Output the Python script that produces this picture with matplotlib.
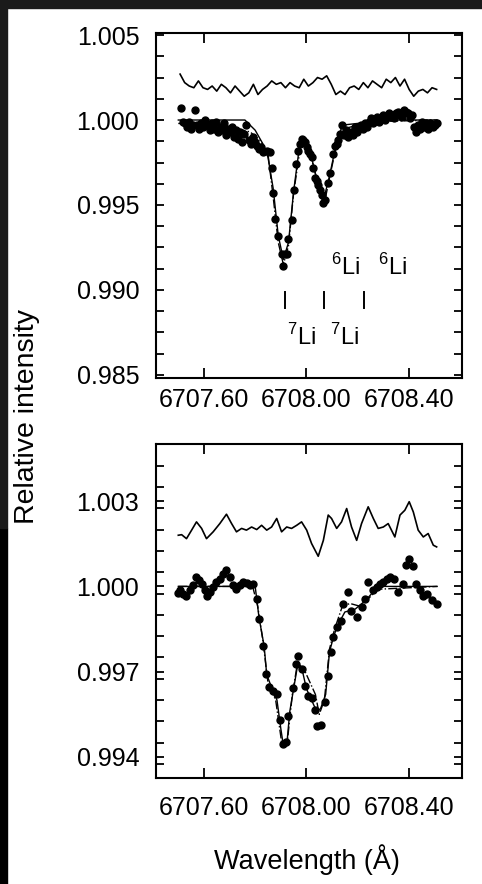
import numpy as np
import matplotlib
matplotlib.use('Agg')
import matplotlib.pyplot as plt
from matplotlib.ticker import MultipleLocator, FormatStrFormatter
from matplotlib.patches import Rectangle

plt.rcParams['font.family'] = ['Liberation Sans', 'DejaVu Sans']
plt.rcParams['mathtext.fontset'] = 'custom'
plt.rcParams['mathtext.rm'] = 'Liberation Sans'

# ---- upper spectrum ----
top_noise_y = [2.7, 2.2, 2.0, 1.9, 2.3, 1.9, 1.8, 2.0, 1.7, 2.1, 1.9, 1.6, 2.0, 1.7,
               1.4, 1.6, 2.1, 1.5, 1.8, 2.0, 2.3, 2.1, 2.2, 1.9, 2.2, 2.0, 1.9, 2.4,
               2.0, 2.2, 2.5, 2.4, 2.6, 2.1, 1.5, 1.7, 1.5, 1.9, 2.0, 1.8, 2.2, 1.9,
               2.3, 2.1, 1.9, 2.4, 2.2, 2.5, 2.0, 2.4, 1.8, 1.4, 1.7, 1.8, 1.6, 1.9,
               1.8]
top_noise_x = np.linspace(6707.507, 6708.508, len(top_noise_y))

top_obs_x = [6707.510, 6707.518, 6707.526, 6707.534, 6707.542, 6707.550, 6707.558,
             6707.566, 6707.574, 6707.582, 6707.590, 6707.598, 6707.606, 6707.614,
             6707.622, 6707.630, 6707.638, 6707.646, 6707.654, 6707.662, 6707.670,
             6707.678, 6707.686, 6707.694, 6707.702, 6707.710, 6707.718, 6707.726,
             6707.734, 6707.742, 6707.750, 6707.758, 6707.766, 6707.774, 6707.782,
             6707.790, 6707.798, 6707.806, 6707.814, 6707.822, 6707.830, 6707.845,
             6707.857, 6707.864, 6707.870, 6707.877, 6707.890, 6707.903, 6707.909,
             6707.916, 6707.923, 6707.929, 6707.942, 6707.951, 6707.960, 6707.968,
             6707.975, 6707.981, 6707.988, 6707.994, 6708.001, 6708.008, 6708.014,
             6708.020, 6708.027, 6708.034, 6708.040, 6708.047, 6708.053, 6708.059,
             6708.066, 6708.072, 6708.085, 6708.092, 6708.105, 6708.111, 6708.118,
             6708.125, 6708.131, 6708.140, 6708.148, 6708.156, 6708.164, 6708.172,
             6708.180, 6708.188, 6708.196, 6708.204, 6708.212, 6708.220, 6708.228,
             6708.236, 6708.244, 6708.252, 6708.260, 6708.268, 6708.276, 6708.284,
             6708.292, 6708.300, 6708.308, 6708.316, 6708.324, 6708.332, 6708.340,
             6708.348, 6708.356, 6708.364, 6708.372, 6708.380, 6708.388, 6708.396,
             6708.404, 6708.412, 6708.420, 6708.428, 6708.436, 6708.444, 6708.452,
             6708.460, 6708.468, 6708.476, 6708.484, 6708.492, 6708.500, 6708.508]
top_obs_y = [1.0007, 0.9999, 0.9998, 0.9996, 0.9999, 0.9995, 0.9997,
             1.0006, 0.9997, 0.9995, 0.9998, 0.9996, 1.0000, 0.9997,
             0.9994, 0.9998, 0.9995, 0.9999, 0.9993, 0.9996, 0.9994,
             0.9998, 0.9991, 0.9995, 0.9993, 0.9996, 0.9990, 0.9994,
             0.9989, 0.9993, 0.9987, 0.9992, 0.9997, 0.9988, 0.9986,
             0.9990, 0.9987, 0.9985, 0.9983, 0.9984, 0.9981, 0.9982,
             0.9981, 0.9972, 0.9957, 0.9942, 0.9932, 0.9921, 0.9914,
             0.9921, 0.9921, 0.9930, 0.9941, 0.9959, 0.9974, 0.9982,
             0.9986, 0.9989, 0.9988, 0.9987, 0.9984, 0.9982, 0.9980,
             0.9978, 0.9972, 0.9966, 0.9964, 0.9962, 0.9959, 0.9956,
             0.9951, 0.9953, 0.9963, 0.9969, 0.9980, 0.9985, 0.9986,
             0.9988, 0.9992, 0.9997, 0.9991, 0.9994, 0.9990, 0.9993,
             0.9991, 0.9996, 0.9993, 0.9996, 0.9997, 0.9995, 0.9998,
             0.9996, 0.9999, 1.0001, 0.9998, 1.0000, 1.0002, 0.9999,
             1.0001, 1.0003, 1.0000, 1.0002, 1.0004, 1.0002, 1.0001,
             1.0004, 1.0005, 1.0003, 1.0002, 1.0006, 1.0005, 1.0004,
             1.0001, 1.0003, 0.9996, 0.9993, 0.9997, 0.9995, 0.9999,
             0.9996, 0.9998, 0.9995, 0.9998, 0.9996, 0.9997, 0.9998]

top_fit1_x = [6707.50, 6707.76, 6707.80, 6707.83, 6707.85, 6707.87, 6707.89, 6707.91,
              6707.93, 6707.95, 6707.975, 6707.99, 6708.02, 6708.045, 6708.065,
              6708.09, 6708.115, 6708.14, 6708.20, 6708.30, 6708.51]
top_fit1_y = [1.0000, 1.0000, 0.9994, 0.9986, 0.9978, 0.9960, 0.9932, 0.9918,
              0.9928, 0.9958, 0.9987, 0.9988, 0.9978, 0.9962, 0.9952,
              0.9967, 0.9985, 0.9997, 0.9998, 1.0000, 1.0000]
top_fit2_x = [6707.50, 6707.70, 6707.78, 6707.82, 6707.85, 6707.87, 6707.89, 6707.91,
              6707.93, 6707.95, 6707.98, 6708.00, 6708.03, 6708.05, 6708.07, 6708.09,
              6708.12, 6708.15, 6708.25, 6708.51]
top_fit2_y = [0.9998, 0.9996, 0.9993, 0.9988, 0.9980, 0.9955, 0.9928, 0.9915,
              0.9926, 0.9957, 0.9988, 0.9985, 0.9972, 0.9958, 0.9951, 0.9966,
              0.9987, 0.9995, 0.9999, 1.0000]

# isotope line positions and their labels
li_mark_x = [6707.916, 6708.068, 6708.226]
li7_label_x = [6707.982, 6708.150]
li6_label_x = [6708.153, 6708.337]

# ---- lower spectrum ----
bot_noise_x = [6707.500, 6707.513, 6707.532, 6707.552, 6707.571, 6707.591, 6707.610,
               6707.636, 6707.662, 6707.688, 6707.708, 6707.727, 6707.747, 6707.766,
               6707.786, 6707.806, 6707.825, 6707.845, 6707.864, 6707.884, 6707.903,
               6707.923, 6707.942, 6707.962, 6707.981, 6708.001, 6708.020, 6708.046,
               6708.066, 6708.085, 6708.098, 6708.118, 6708.137, 6708.157, 6708.176,
               6708.196, 6708.215, 6708.241, 6708.261, 6708.280, 6708.300, 6708.319,
               6708.345, 6708.365, 6708.384, 6708.401, 6708.417, 6708.436, 6708.456,
               6708.475, 6708.495, 6708.508]
bot_noise_y = [1.00180, 1.00182, 1.00168, 1.00198, 1.00227, 1.00204, 1.00168,
               1.00192, 1.00221, 1.00254, 1.00221, 1.00192, 1.00204, 1.00198,
               1.00209, 1.00200, 1.00215, 1.00198, 1.00209, 1.00239, 1.00192,
               1.00209, 1.00204, 1.00215, 1.00227, 1.00198, 1.00151, 1.00106,
               1.00162, 1.00251, 1.00239, 1.00204, 1.00227, 1.00274, 1.00209,
               1.00162, 1.00221, 1.00280, 1.00239, 1.00204, 1.00209, 1.00221,
               1.00174, 1.00251, 1.00268, 1.00298, 1.00262, 1.00198, 1.00174,
               1.00186, 1.00145, 1.00139]

bot_obs_x = [6707.500, 6707.506, 6707.519, 6707.532, 6707.545, 6707.558, 6707.571,
             6707.582, 6707.591, 6707.604, 6707.613, 6707.623, 6707.636, 6707.649,
             6707.662, 6707.675, 6707.688, 6707.701, 6707.714, 6707.727, 6707.740,
             6707.753, 6707.767, 6707.780, 6707.793, 6707.806, 6707.816, 6707.832,
             6707.841, 6707.855, 6707.871, 6707.884, 6707.897, 6707.907, 6707.920,
             6707.930, 6707.946, 6707.959, 6707.968, 6707.981, 6707.994, 6708.007,
             6708.020, 6708.033, 6708.042, 6708.055, 6708.072, 6708.085, 6708.096,
             6708.105, 6708.120, 6708.133, 6708.144, 6708.163, 6708.174, 6708.196,
             6708.215, 6708.228, 6708.241, 6708.258, 6708.274, 6708.287, 6708.300,
             6708.313, 6708.328, 6708.341, 6708.358, 6708.378, 6708.388, 6708.401,
             6708.417, 6708.427, 6708.443, 6708.456, 6708.469, 6708.488, 6708.508]
bot_obs_y = [0.99976, 0.99986, 0.99974, 0.99968, 0.99986, 1.00004, 1.00033,
             1.00021, 1.00009, 0.99986, 0.99968, 0.99980, 0.99998, 1.00015,
             1.00027, 1.00045, 1.00056, 1.00033, 1.00004, 0.99992, 1.00004,
             1.00015, 1.00012, 1.00004, 1.00007, 0.99956, 0.99886, 0.99792,
             0.99692, 0.99645, 0.99633, 0.99621, 0.99529, 0.99445, 0.99451,
             0.99545, 0.99642, 0.99727, 0.99756, 0.99709, 0.99651, 0.99615,
             0.99609, 0.99565, 0.99509, 0.99513, 0.99592, 0.99686, 0.99768,
             0.99821, 0.99856, 0.99880, 0.99939, 0.99980, 0.99915, 0.99892,
             0.99927, 0.99956, 1.00015, 0.99988, 0.99998, 1.00009, 1.00015,
             1.00027, 1.00033, 1.00027, 0.99980, 1.00009, 1.00074, 1.00098,
             1.00071, 1.00009, 0.99986, 0.99968, 0.99974, 0.99951, 0.99939]

bot_fit1_x = [6707.50, 6707.80, 6707.815, 6707.835, 6707.845, 6707.87, 6707.885,
              6707.90, 6707.91, 6707.925, 6707.935, 6707.95, 6707.965, 6707.985,
              6708.00, 6708.02, 6708.04, 6708.055, 6708.075, 6708.09, 6708.105,
              6708.12, 6708.15, 6708.19, 6708.23, 6708.26, 6708.30, 6708.51]
bot_fit1_y = [1.0000, 1.0000, 0.9989, 0.9979, 0.9969, 0.9963, 0.9960,
              0.9950, 0.9944, 0.9946, 0.9956, 0.9964, 0.9972, 0.9970,
              0.9964, 0.9960, 0.9956, 0.9957, 0.9962, 0.9977, 0.9982,
              0.9986, 0.9991, 0.9992, 0.9995, 0.9998, 1.0000, 1.0000]
bot_fit2_x = [6707.50, 6707.79, 6707.81, 6707.83, 6707.85, 6707.88, 6707.905,
              6707.925, 6707.945, 6707.965, 6707.99, 6708.01, 6708.035, 6708.05,
              6708.07, 6708.09, 6708.11, 6708.14, 6708.17, 6708.21, 6708.28, 6708.51]
bot_fit2_y = [1.0000, 1.0000, 0.9993, 0.9981, 0.9966, 0.9960, 0.9944,
              0.9945, 0.9962, 0.9973, 0.9971, 0.9967, 0.9962, 0.9955,
              0.9960, 0.9978, 0.9985, 0.9993, 0.9994, 0.9993, 0.9999, 1.0000]

fig = plt.figure(figsize=(4.82, 8.84), dpi=100)

# dark scanner edge along the top and left
fig.patches.append(Rectangle((0, 1 - 8 / 884), 1, 8 / 884, transform=fig.transFigure,
                             color='#1b1b1b', zorder=0))
fig.patches.append(Rectangle((0, 0), 7 / 482, 356 / 884, transform=fig.transFigure,
                             color='black', zorder=0))
fig.patches.append(Rectangle((0, 356 / 884), 7 / 482, 528 / 884, transform=fig.transFigure,
                             color='#1b1b1b', zorder=0))

ax1 = fig.add_axes([156 / 482, 506 / 884, 306 / 482, 345 / 884])
ax2 = fig.add_axes([156 / 482, 106 / 884, 306 / 482, 334 / 884])


def style_axis(ax, xpad):
    for s in ax.spines.values():
        s.set_linewidth(1.5)
    ax.set_xlim(6707.413, 6708.607)
    ax.set_xticks([6707.60, 6708.00, 6708.40])
    ax.xaxis.set_major_formatter(FormatStrFormatter('%.2f'))
    ax.yaxis.set_major_formatter(FormatStrFormatter('%.3f'))
    ax.tick_params(axis='x', which='major', direction='in', top=True, bottom=True,
                   length=7, width=1.3, labelsize=18, pad=xpad)
    ax.tick_params(axis='y', which='both', direction='in', left=True, right=True,
                   length=6, width=1.3, labelsize=18, pad=12)


# upper panel
ax1.plot(top_noise_x, 1 + np.array(top_noise_y) * 1e-3, color='k', lw=1.2)
ax1.plot(top_fit1_x, top_fit1_y, color='k', lw=1.0)
ax1.plot(top_fit2_x, top_fit2_y, color='k', lw=1.0, ls='-.')
ax1.plot(top_obs_x, top_obs_y, 'o', color='k', ms=5)
for xm in li_mark_x:
    ax1.plot([xm, xm], [0.98892, 0.98990], color='k', lw=1.4)
for xl in li6_label_x:
    ax1.text(xl, 0.99137, r'$^{6}$Li', ha='center', va='center', fontsize=17)
for xl in li7_label_x:
    ax1.text(xl, 0.98725, r'$^{7}$Li', ha='center', va='center', fontsize=17)
ax1.set_ylim(0.98482, 1.00512)
ax1.set_yticks([0.985, 0.990, 0.995, 1.000, 1.005])
ax1.yaxis.set_minor_locator(MultipleLocator(0.00125))
style_axis(ax1, 7)

# lower panel
ax2.plot(bot_noise_x, bot_noise_y, color='k', lw=1.2)
ax2.plot(bot_fit1_x, bot_fit1_y, color='k', lw=1.0)
ax2.plot(bot_fit2_x, bot_fit2_y, color='k', lw=1.0, ls='-.')
ax2.plot(bot_obs_x, bot_obs_y, 'o', color='k', ms=5)
ax2.set_ylim(0.99326, 1.00501)
ax2.set_yticks([0.994, 0.997, 1.000, 1.003])
ax2.yaxis.set_minor_locator(MultipleLocator(0.00075))
style_axis(ax2, 13)

fig.text(27 / 482, 1 - 416 / 884, 'Relative intensity', rotation=90,
         ha='center', va='center', fontsize=20.5)
fig.text(307 / 482, 1 - 860 / 884, 'Wavelength (Å)', ha='center', va='center',
         fontsize=19.5)

fig.savefig('out.png', dpi=100)
